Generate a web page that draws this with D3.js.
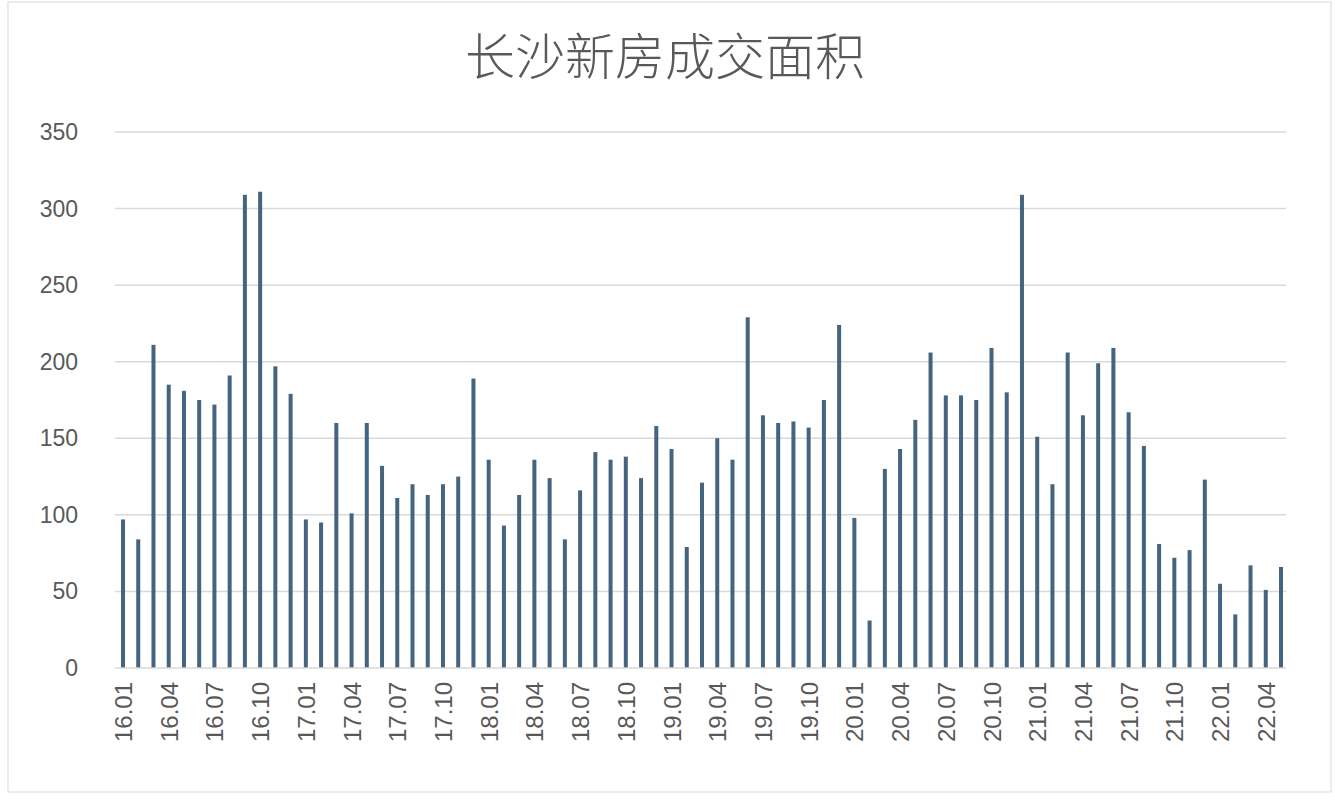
<!DOCTYPE html>
<html><head><meta charset="utf-8">
<script src="https://cdn.jsdelivr.net/npm/d3@7"></script>
<style>body{margin:0;background:#fff}</style>
</head><body>
<svg id="main-svg"></svg>
<script>
const months = [];
for (let y = 16; y <= 22; y++) for (let m = 1; m <= 12; m++) {
  if (y === 22 && m > 5) break;
  months.push(`${y}.${String(m).padStart(2, "0")}`);
}
const values = [97,84,211,185,181,175,172,191,309,311,197,179,
  97,95,160,101,160,132,111,120,113,120,125,189,
  136,93,113,136,124,84,116,141,136,138,124,158,
  143,79,121,150,136,229,165,160,161,157,175,224,
  98,31,130,143,162,206,178,178,175,209,180,309,
  151,120,206,165,199,209,167,145,81,72,77,123,
  55,35,67,51,66];
const yTicks = [0,50,100,150,200,250,300,350];

const W = 1335, H = 800;
const svg = d3.select("#main-svg").attr("width", W).attr("height", H);

svg.append("rect").attr("x", 8).attr("y", 2).attr("width", W - 12).attr("height", H - 10)
  .attr("fill", "white").attr("stroke", "#d9d9d9");

const x = d3.scaleLinear().domain([0, months.length - 1]).range([123, 1281]);
const y = d3.scaleLinear().domain([0, 350]).range([668, 132]);

svg.append("text").attr("x", 665).attr("y", 75).attr("text-anchor", "middle")
  .attr("font-family", "Noto Sans CJK SC").attr("font-weight", 300).attr("font-size", 50).attr("fill", "#595959")
  .text("长沙新房成交面积");

// grid
svg.selectAll(".grid").data(yTicks.slice(1)).enter().append("line")
  .attr("x1", 115).attr("x2", 1286)
  .attr("y1", d => y(d)).attr("y2", d => y(d))
  .attr("stroke", "#d9d9d9").attr("stroke-width", 1.5);

svg.selectAll(".ylab").data(yTicks).enter().append("text")
  .attr("x", 78).attr("y", d => y(d) + 8).attr("text-anchor", "end")
  .attr("font-family", "Liberation Sans, Arial").attr("font-size", 23).attr("fill", "#595959")
  .text(d => d);

svg.selectAll(".bar").data(values).enter().append("rect")
  .attr("x", (d, i) => x(i) - 2).attr("width", 4)
  .attr("y", d => y(d)).attr("height", d => y(0) - y(d))
  .attr("fill", "#44647f");

svg.append("line").attr("x1", 115).attr("x2", 1286).attr("y1", y(0)).attr("y2", y(0))
  .attr("stroke", "#d9d9d9").attr("stroke-width", 1.5);

svg.selectAll(".xlab").data(months.map((m, i) => [m, i]).filter(d => d[1] % 3 === 0))
  .enter().append("text")
  .attr("transform", d => `translate(${x(d[1]) + 9},682) rotate(-90)`)
  .attr("text-anchor", "end")
  .attr("font-family", "Liberation Sans, Arial").attr("font-size", 24).attr("fill", "#595959")
  .text(d => d[0]);
</script>
</body></html>
